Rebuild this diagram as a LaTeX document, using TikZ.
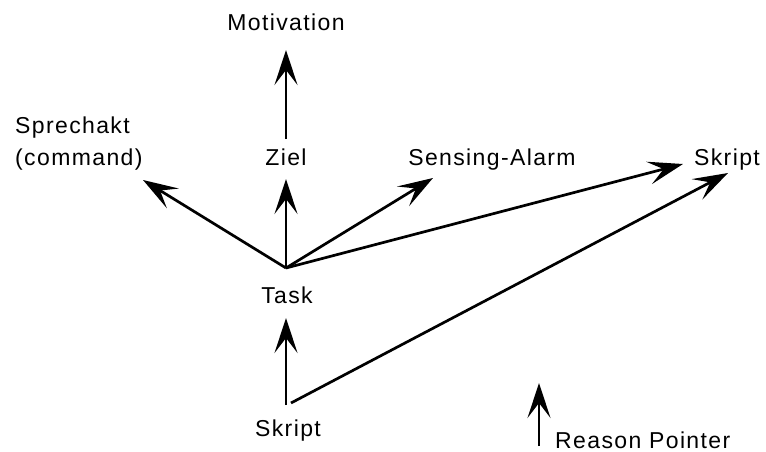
\documentclass[tikz,border=0pt]{standalone}
\usepackage{fontspec}
\setmainfont[LetterSpace=6]{Liberation Sans}
\usetikzlibrary{arrows.meta}
\tikzset{
  lbl/.style={inner sep=0pt, anchor=base, font=\fontsize{23}{32}\selectfont},
  ptr/.style={line width=2.7pt, -{Stealth[length=35pt,width=23pt,inset=15pt]}},
}
\begin{document}
\begin{tikzpicture}[x=1pt,y=1pt]
  \useasboundingbox (0,0) rectangle (766,-452);
  % labels
  \node[lbl] (motiv) at (286,-31) {Motivation};
  \node[lbl] (ziel) at (286,-165) {Ziel};
  \node[lbl, anchor=base west, align=left] (sprech) at (15,-165) {Sprechakt\\(command)};
  \node[lbl] (sens) at (492,-165) {Sensing-Alarm};
  \node[lbl] (skriptR) at (727,-165) {Skript};
  \node[lbl] (task) at (287,-303) {Task};
  \node[lbl] (skriptB) at (288,-436) {Skript};
  \node[lbl, anchor=base west] (reason) at (555,-448) {Reason Pointer};
  % connector end points
  \coordinate (zielTop) at (286,-139);
  \coordinate (motivIn) at (286,-50);
  \coordinate (taskTop) at (286,-268);
  \coordinate (sprechIn) at (143,-180);
  \coordinate (zielIn) at (286,-179);
  \coordinate (sensIn) at (433,-178);
  \coordinate (skriptRIn1) at (683,-164);
  \coordinate (skriptRIn2) at (728,-173);
  \coordinate (taskIn) at (286,-318);
  \coordinate (skriptBTop) at (286,-405);
  \coordinate (skriptBOut) at (291,-403);
  \coordinate (legTail) at (539,-446);
  \coordinate (legTip) at (539,-383);
  % reason pointers
  \draw[ptr] (zielTop) -- (motivIn);
  \draw[ptr] (taskTop) -- (sprechIn);
  \draw[ptr] (taskTop) -- (zielIn);
  \draw[ptr] (taskTop) -- (sensIn);
  \draw[ptr] (taskTop) -- (skriptRIn1);
  \draw[ptr] (skriptBTop) -- (taskIn);
  \draw[ptr] (skriptBOut) -- (skriptRIn2);
  \draw[ptr, line width=2.2pt] (legTail) -- (legTip);
\end{tikzpicture}
\end{document}
